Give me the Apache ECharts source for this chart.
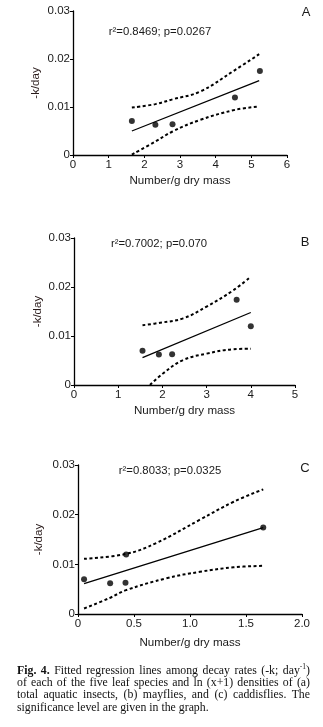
<!DOCTYPE html>
<html>
<head>
<meta charset="utf-8">
<script src="https://cdn.jsdelivr.net/npm/echarts@6/dist/echarts.min.js"></script>
<style>
  body { margin: 0; background: #fff; }
  #main { position: absolute; left: 0; top: 0; width: 323px; height: 727px; }
  #caption {
    position: absolute; left: 17px; top: 664px; width: 293px;
    font-family: "Liberation Serif", "DejaVu Serif", serif;
    font-size: 11.8px; line-height: 12.2px; color: #111;
  }
  #caption div { text-align: justify; text-align-last: justify; white-space: nowrap; }
  #caption div.last { text-align-last: left; }
  #caption sup { font-size: 7.5px; line-height: 0; }
</style>
</head>
<body>
<div id="main"></div>
<div id="caption">
<div><b>Fig. 4.</b> Fitted regression lines among decay rates (-k; day<sup>-1</sup>)</div>
<div>of each of the five leaf species and ln (x+1) densities of (a)</div>
<div>total aquatic insects, (b) mayflies, and (c) caddisflies. The</div>
<div class="last">significance level are given in the graph.</div>
</div>
<script>
// panel A - total aquatic insects
var aDots = [[1.65, 0.0071], [2.31, 0.0063], [2.79, 0.0064], [4.54, 0.0120], [5.24, 0.0175]];
var aFit = [[1.65, 0.0050], [5.22, 0.0155]];
var aUpper = [[1.65, 0.0099], [2.31, 0.0106], [2.79, 0.0116], [3.56, 0.0132], [4.54, 0.0177], [5.22, 0.0210]];
var aLower = [[1.65, 0.0001], [2.31, 0.0028], [2.79, 0.0049], [3.56, 0.0073], [4.54, 0.0094], [5.22, 0.0101]];
// panel B - mayflies
var bDots = [[1.55, 0.0070], [1.92, 0.0062], [2.22, 0.0063], [3.68, 0.0174], [4.0, 0.0120]];
var bFit = [[1.55, 0.0056], [4.0, 0.0148]];
var bUpper = [[1.55, 0.0122], [1.95, 0.0127], [2.47, 0.0136], [3.0, 0.0160], [3.6, 0.0193], [4.0, 0.0221]];
var bLower = [[1.72, 0.0], [2.02, 0.0024], [2.47, 0.0051], [3.0, 0.0064], [3.6, 0.0073], [4.0, 0.0074]];
// panel C - caddisflies
var cDots = [[0.054, 0.0070], [0.287, 0.0062], [0.424, 0.0063], [0.43, 0.0120], [1.654, 0.0174]];
var cFit = [[0.054, 0.0061], [1.654, 0.0174]];
var cUpper = [[0.054, 0.0111], [0.43, 0.0121], [0.70, 0.0143], [1.09, 0.0190], [1.39, 0.0226], [1.654, 0.0251]];
var cLower = [[0.054, 0.0011], [0.28, 0.0032], [0.43, 0.0048], [0.79, 0.0072], [1.09, 0.0085], [1.39, 0.0094], [1.654, 0.0097]];

var stats = ['r²=0.8469; p=0.0267', 'r²=0.7002; p=0.070', 'r²=0.8033; p=0.0325'];
var letters = ['A', 'B', 'C'];
var xMax = [6, 5, 2];
var xStep = [1, 1, 0.5];

var font = 'Liberation Sans';
var ink = '#1a1a1a';

var grids = [
    {left: 73, top: 11, width: 214, height: 144},
    {left: 74, top: 238, width: 221, height: 147},
    {left: 78, top: 465, width: 224, height: 149}
];
var yGaps = [31, 30, 33];
var xGaps = [20, 20, 23];

var xAxes = [], yAxes = [], series = [], graphics = [];
var sets = [[aDots, aFit, aUpper, aLower], [bDots, bFit, bUpper, bLower], [cDots, cFit, cUpper, cLower]];

for (var i = 0; i < 3; i++) {
    xAxes.push({
        gridIndex: i, type: 'value', min: 0, max: xMax[i], interval: xStep[i],
        name: 'Number/g dry mass', nameLocation: 'middle', nameGap: xGaps[i],
        nameMoveOverlap: false,
        nameTextStyle: {fontFamily: font, fontSize: 11.6, color: ink},
        axisLine: {lineStyle: {color: '#000', width: 1.3}},
        axisTick: {length: 3, lineStyle: {color: '#000', width: 1}},
        axisLabel: {fontFamily: font, fontSize: 11.5, color: ink, margin: 4},
        splitLine: {show: false}
    });
    yAxes.push({
        gridIndex: i, type: 'value', min: 0, max: 0.03, interval: 0.01,
        name: '-k/day', nameLocation: 'middle', nameGap: yGaps[i], nameRotate: 90,
        nameMoveOverlap: false,
        nameTextStyle: {fontFamily: font, fontSize: 11.5, color: '#2a1c1c'},
        axisLine: {show: true, lineStyle: {color: '#000', width: 1.3}},
        axisTick: {show: true, length: 3, lineStyle: {color: '#000', width: 1}},
        axisLabel: {fontFamily: font, fontSize: 11.5, color: ink, margin: 3,
            formatter: function (v) { return v === 0 ? '0' : v.toFixed(2); }},
        splitLine: {show: false}
    });
    var s = sets[i];
    series.push({
        type: 'line', xAxisIndex: i, yAxisIndex: i, data: s[1], showSymbol: false,
        lineStyle: {color: '#000', width: 1.3}, silent: true
    });
    series.push({
        type: 'line', xAxisIndex: i, yAxisIndex: i, data: s[2], showSymbol: false, smooth: 0.4,
        lineStyle: {color: '#000', width: 2, type: [3, 2.5]}, silent: true
    });
    series.push({
        type: 'line', xAxisIndex: i, yAxisIndex: i, data: s[3], showSymbol: false, smooth: 0.4,
        lineStyle: {color: '#000', width: 2, type: [3, 2.5]}, silent: true
    });
    series.push({
        type: 'scatter', xAxisIndex: i, yAxisIndex: i, data: s[0], symbolSize: 6,
        itemStyle: {color: '#000'}, silent: true
    });
}

// x labels for panel C need one decimal
xAxes[2].axisLabel.formatter = function (v) { return v === 0 ? '0' : v.toFixed(1); };

var statPos = [[160, 32], [159, 244], [170, 471]];
var letterPos = [[306, 12], [305, 242], [305, 468]];
for (var j = 0; j < 3; j++) {
    graphics.push({
        type: 'text', x: statPos[j][0], y: statPos[j][1],
        style: {text: stats[j], font: '11.3px "' + font + '"', fill: ink, textAlign: 'center', textVerticalAlign: 'middle'}
    });
    graphics.push({
        type: 'text', x: letterPos[j][0], y: letterPos[j][1],
        style: {text: letters[j], font: '13px "' + font + '"', fill: ink, textAlign: 'center', textVerticalAlign: 'middle'}
    });
}

var myChart = echarts.init(document.getElementById('main'));
myChart.setOption({
    animation: false,
    backgroundColor: '#fff',
    grid: grids,
    xAxis: xAxes,
    yAxis: yAxes,
    series: series,
    graphic: graphics
});
</script>
</body>
</html>
